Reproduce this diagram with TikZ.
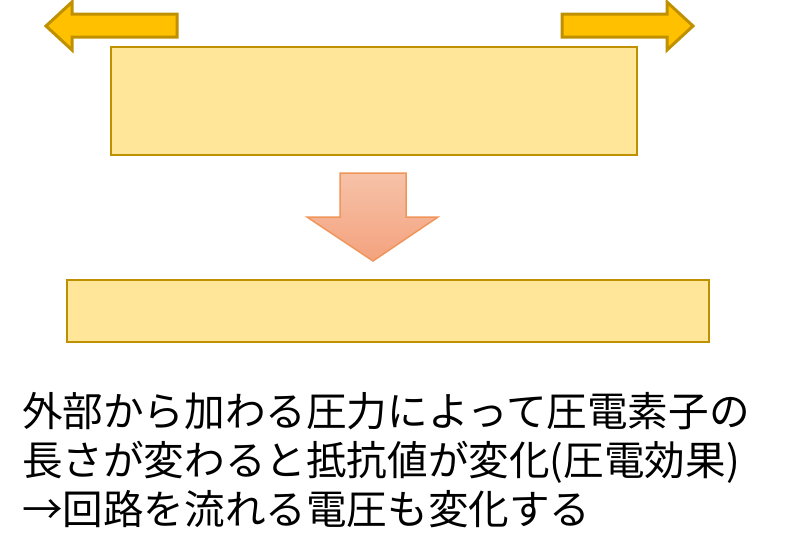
\documentclass[tikz,border=0pt]{standalone}
\usepackage{fontspec}
\newfontfamily\cjk{Noto Sans CJK JP}
\definecolor{gold}{HTML}{FFC000}
\definecolor{darkgold}{HTML}{BF9000}
\definecolor{paleyellow}{HTML}{FFE699}
\definecolor{salmontop}{HTML}{F6C2A8}
\definecolor{salmonbot}{HTML}{F4A27E}
\definecolor{salmonline}{HTML}{F0955A}
\begin{document}
\begin{tikzpicture}[x=1pt,y=-1pt,line join=miter]
			\tikzset{plate/.style={draw=darkgold,fill=paleyellow,line width=2.5pt,inner sep=0pt},
					push/.style={draw=darkgold,fill=gold,line width=3pt}}
			\useasboundingbox (0,0) rectangle (801,557);
			% pulling arrows
			\draw[push] (177,14)--(72,14)--(72,2)--(46,26)--(72,50)--(72,37)--(177,37)--cycle;
			\draw[push] (562,14)--(667,14)--(667,2)--(693,26)--(667,50)--(667,37)--(562,37)--cycle;
			% plate before / after
			\node[plate,minimum width=526pt,minimum height=108pt] (long) at (374,101) {};
			\node[plate,minimum width=642pt,minimum height=62pt] (flat) at (388,311) {};
			\draw[draw=salmonline,line width=1.5pt,top color=salmontop,bottom color=salmonbot]
			(340,173)--(406,173)--(406,217)--(438,217)--(373,261)--(307,217)--(340,217)--cycle;
			\node[font=\cjk\fontsize{40.6}{49}\selectfont,align=left,anchor=base west,inner sep=0pt] (note) at (22,524)
			{外部から加わる圧力によって圧電素子の\\長さが変わると抵抗値が変化(圧電効果)\\→回路を流れる電圧も変化する};
\end{tikzpicture}
\end{document}
